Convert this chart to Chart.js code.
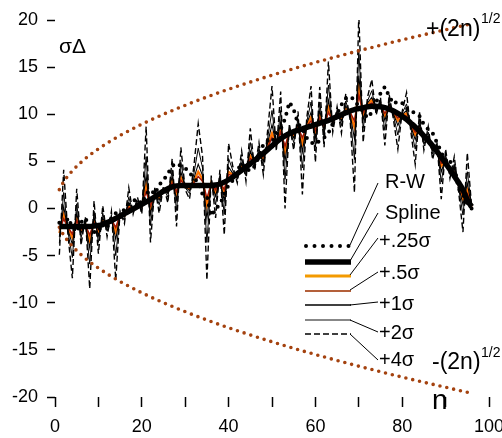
<!DOCTYPE html>
<html>
<head>
<meta charset="utf-8">
<script src="https://cdn.jsdelivr.net/npm/chart.js@4/dist/chart.umd.min.js"></script>
<style>
  html, body { margin: 0; padding: 0; background: #fff; }
  #wrap { width: 502px; height: 438px; }
</style>
</head>
<body>
<div id="wrap"><canvas id="walk-chart" width="502" height="438"></canvas></div>
<script>
// ========================================
// DATA
// ========================================

const steps = [1, 2, 3, 4, 5, 6, 7, 8, 9, 10, 11, 12, 13, 14, 15, 16, 17, 18, 19, 20,
  21, 22, 23, 24, 25, 26, 27, 28, 29, 30, 31, 32, 33, 34, 35, 36, 37, 38, 39, 40,
  41, 42, 43, 44, 45, 46, 47, 48, 49, 50, 51, 52, 53, 54, 55, 56, 57, 58, 59, 60,
  61, 62, 63, 64, 65, 66, 67, 68, 69, 70, 71, 72, 73, 74, 75, 76, 77, 78, 79, 80,
  81, 82, 83, 84, 85, 86, 87, 88, 89, 90, 91, 92, 93, 94, 95, 96];

const randomWalk = [-1.5, -2, -1, -2, -2.5, -1.5, -1, -2, -2.5, -2.5, -1.5, -2, -1, -0.5, -1, 0, 0.5, 0.8, 1, 0.5,
  1.5, 2, 1.5, 2.5, 3, 3.7, 4.5, 4.8, 4.5, 4.3, 3.8, 3.2, 2.8, 1.5, 1.3, -0.8, 0, 0.4, 1.5, 2.5,
  3, 4, 4.8, 4.2, 4, 4.5, 5.5, 6.8, 7.2, 7, 8, 8.4, 9.5, 11.3, 10.5, 9, 8.5, 7.5, 7, 6.8,
  7.2, 7.5, 8, 9, 10, 11, 11.7, 11.9, 11.5, 10.8, 10.3, 9.6, 10.2, 11.3, 12.2, 12.9, 11.9, 11.1, 11.4, 11.2,
  10.6, 10.5, 10, 9.8, 8.9, 8.4, 8, 7, 6, 4.8, 5, 4.5, 2.1, 1.5, 0.5, 0];

const spline = [-1.9, -1.9, -1.9, -1.9, -1.9, -1.9, -1.9, -1.9, -1.85, -1.8, -1.7, -1.5, -1.3, -1.05, -0.8, -0.55, -0.3, -0.05, 0.2, 0.45,
  0.7, 0.95, 1.25, 1.55, 1.85, 2.1, 2.3, 2.4, 2.45, 2.45, 2.45, 2.45, 2.45, 2.45, 2.45, 2.45, 2.5, 2.6, 2.8, 3.05,
  3.35, 3.7, 4.05, 4.4, 4.75, 5.1, 5.5, 5.85, 6.25, 6.65, 7.05, 7.4, 7.7, 7.95, 8.15, 8.3, 8.45, 8.6, 8.75, 8.9,
  9.05, 9.2, 9.35, 9.55, 9.75, 9.95, 10.15, 10.35, 10.5, 10.6, 10.7, 10.8, 10.85, 10.85, 10.8, 10.7, 10.55, 10.35, 10.1, 9.8,
  9.45, 9.05, 8.65, 8.2, 7.7, 7.2, 6.65, 6.05, 5.45, 4.8, 4.15, 3.45, 2.75, 2.0, 0.9, 0.2];

const plusQuarterSigma = [-2.6, -0.6, -2.1, -3.1, -1.0, -2.3, -1.7, -3.4, -1.3, -2.5, -1.3, -1.8, -1.1, -2.5, -0.7, -0.8, 0.3, -0.2, 0.4, 0.2,
  2.5, 0.0, 1.5, 1.1, 2.0, 1.8, 3.0, 1.5, 3.3, 2.3, 2.1, 2.9, 3.9, 3.1, 0.3, 2.7, 1.7, 2.9, 1.6, 3.9,
  3.6, 3.5, 4.5, 4.1, 5.6, 4.9, 5.8, 5.3, 6.7, 8.0, 6.8, 8.5, 6.0, 8.2, 7.7, 8.7, 6.9, 8.8, 9.7, 8.0,
  9.9, 8.6, 10.7, 9.2, 10.0, 9.5, 10.6, 10.1, 8.6, 12.8, 9.9, 11.0, 11.5, 10.6, 11.0, 9.8, 10.9, 10.1, 9.3, 9.9,
  10.1, 8.8, 7.8, 8.6, 7.4, 7.5, 6.3, 6.3, 4.5, 5.1, 3.9, 3.9, 2.5, 1.0, 2.0, 0.2];

const plusHalfSigma = [-2.3, -1.1, -2.0, -2.7, -1.3, -2.2, -1.8, -2.8, -1.5, -2.2, -1.4, -1.7, -1.2, -2.0, -0.7, -0.7, 0.1, -0.1, 0.3, 0.3,
  1.8, 0.3, 1.4, 1.3, 1.9, 1.9, 2.7, 1.8, 3.0, 2.4, 2.2, 2.7, 3.4, 2.9, 1.1, 2.6, 2.0, 2.8, 2.0, 3.6,
  3.5, 3.6, 4.3, 4.2, 5.3, 5.0, 5.7, 5.5, 6.5, 7.5, 6.9, 8.1, 6.6, 8.1, 7.9, 8.6, 7.5, 8.7, 9.3, 8.3,
  9.6, 8.8, 10.2, 9.3, 9.9, 9.7, 10.4, 10.2, 9.3, 12.0, 10.2, 10.9, 11.2, 10.7, 10.9, 10.1, 10.8, 10.2, 9.6, 9.9,
  9.8, 8.9, 8.1, 8.5, 7.5, 7.4, 6.4, 6.2, 4.8, 5.0, 4.0, 3.7, 2.6, 1.4, 1.6, 0.2];

const plusOneSigma = [-3.0, 0.2, -2.3, -3.8, -0.5, -2.6, -1.6, -4.2, -0.9, -2.9, -1.0, -2.0, -1.0, -3.3, -0.6, -0.9, 0.6, -0.2, 0.6, 0.1,
  3.5, -0.6, 1.6, 0.9, 2.0, 1.6, 3.4, 0.9, 3.9, 2.3, 1.9, 3.2, 4.7, 3.5, -1.1, 2.8, 1.3, 3.1, 0.8, 4.4,
  3.7, 3.4, 4.8, 3.9, 6.1, 4.8, 6.0, 5.0, 7.0, 8.9, 6.7, 9.2, 5.0, 8.3, 7.5, 9.0, 6.0, 9.0, 10.2, 7.5,
  10.4, 8.3, 11.5, 9.0, 10.1, 9.3, 10.9, 10.0, 7.4, 14.1, 9.4, 11.2, 11.8, 10.5, 11.2, 9.3, 11.1, 10.0, 8.8, 10.0,
  10.4, 8.7, 7.3, 8.9, 7.2, 7.7, 6.1, 6.4, 3.9, 5.3, 3.8, 4.2, 2.4, 0.4, 2.7, 0.2];

const plusTwoSigma = [-3.7, 1.7, -2.5, -5.2, 0.5, -3.1, -1.3, -5.9, -0.3, -3.6, -0.5, -2.4, -0.7, -5.0, -0.5, -1.2, 1.2, -0.4, 0.8, -0.2,
  5.5, -1.8, 1.9, 0.4, 2.2, 1.2, 4.1, -0.2, 4.9, 2.2, 1.6, 3.7, 6.4, 4.3, -3.6, 3.1, 0.4, 3.5, -0.6, 5.3,
  4.0, 3.1, 5.3, 3.5, 7.0, 4.5, 6.4, 4.5, 7.5, 10.4, 6.5, 10.4, 3.1, 8.6, 7.0, 9.5, 4.3, 9.2, 11.3, 6.5,
  11.3, 7.6, 13.1, 8.7, 10.4, 8.8, 11.4, 9.8, 5.2, 16.6, 8.5, 11.4, 12.5, 10.3, 11.4, 8.3, 11.5, 9.8, 7.8, 10.1,
  11.1, 8.5, 6.3, 9.4, 6.8, 8.1, 5.8, 6.7, 2.8, 5.7, 3.6, 4.7, 2.2, -0.7, 3.9, 0.2];

const plusFourSigma = [-4.9, 4.1, -2.9, -7.4, 2.1, -3.9, -0.9, -8.5, 0.8, -4.8, 0.3, -3.0, -0.3, -7.6, -0.3, -1.6, 2.2, -0.6, 1.2, -0.6,
  8.7, -3.6, 2.3, -0.5, 2.4, 0.6, 5.3, -1.9, 6.5, 2.0, 1.0, 4.5, 9.0, 5.5, -7.6, 3.5, -1.0, 4.1, -2.8, 6.9,
  4.4, 2.7, 6.1, 2.9, 8.5, 4.1, 7.0, 3.6, 8.3, 13.0, 6.1, 12.4, 0.0, 9.0, 6.2, 10.3, 1.5, 9.6, 13.0, 4.9,
  12.9, 6.5, 15.6, 8.1, 10.8, 8.0, 12.2, 9.4, 1.7, 20.6, 7.0, 11.8, 13.7, 9.9, 11.8, 6.7, 12.1, 9.4, 6.3, 10.3,
  12.3, 8.1, 4.7, 10.2, 6.2, 8.7, 5.2, 7.1, 1.0, 6.3, 3.2, 5.5, 1.8, -2.5, 5.9, 0.2];

// +/- envelope curves
const envelopeN = [1, 2, 3, 4, 6, 8, 10, 13, 16, 20, 25, 30, 36, 42, 49, 56, 64, 72, 81, 90, 96];
const envelopeUpper = [2, 2.83, 3.46, 4, 4.9, 5.66, 6.32, 7.21, 8, 8.94, 10, 10.95, 12, 12.96, 14, 14.97, 16, 16.97, 18, 18.97, 19.6];
const envelopeLower = [-2, -2.83, -3.46, -4, -4.9, -5.66, -6.32, -7.21, -8, -8.94, -10, -10.95, -12, -12.96, -14, -14.97, -16, -16.97, -18, -18.97, -19.6];

const xTickLabels = [0, 20, 40, 60, 80, 100];
const yTickLabels = [-20, -15, -10, -5, 0, 5, 10, 15, 20];

const legendLabels = ['R-W', 'Spline', '+.25\u03C3', '+.5\u03C3', '+1\u03C3', '+2\u03C3', '+4\u03C3'];

// ========================================
// CHART
// ========================================

const FONT = '"Liberation Sans", Arial, sans-serif';
const BROWN = '#a4420f';

function toPoints(xs, ys) {
  return xs.map(function(x, i) { return { x: x, y: ys[i] }; });
}

function noisyLine(label, values, color, width, order, dash) {
  return {
    label: label,
    data: toPoints(steps, values),
    borderColor: color,
    borderWidth: width,
    borderDash: dash || [],
    pointRadius: 0,
    tension: 0,
    order: order
  };
}

// Legend + text annotations drawn straight on the canvas
const annotationPlugin = {
  id: 'annotations',
  afterDraw: function(chart) {
    const ctx = chart.ctx;
    ctx.save();
    ctx.fillStyle = '#000';
    ctx.textAlign = 'left';

    // axis titles
    ctx.font = '21px ' + FONT;
    ctx.textBaseline = 'middle';
    ctx.fillText('\u03C3\u0394', 59, 47);
    ctx.font = '28px ' + FONT;
    ctx.textBaseline = 'alphabetic';
    ctx.fillText('n', 432, 409);

    // envelope labels
    ctx.font = '23px ' + FONT;
    ctx.fillText('+(2n)', 426, 36);
    ctx.fillText('-(2n)', 432, 369);
    ctx.font = '14px ' + FONT;
    ctx.fillText('1/2', 481, 23);
    ctx.fillText('1/2', 481, 357);

    // legend samples
    const sx0 = 305, sx1 = 351;
    const sampleY = [246, 262, 276, 291, 305, 320, 334];
    const labelPos = [[385, 182], [385, 213], [379, 241], [379, 273], [379, 304], [379, 333], [379, 360]];
    const leaderEnd = [[378, 183], [378, 213], [378, 238], [378, 272], [378, 302], [378, 332], [378, 360]];
    const styles = [
      { color: '#000', width: 4, dash: [0, 8.5], cap: 'round' },
      { color: '#000', width: 5.5, dash: [], cap: 'butt' },
      { color: '#f39a00', width: 3, dash: [], cap: 'butt' },
      { color: '#b4603a', width: 2, dash: [], cap: 'butt' },
      { color: '#000', width: 1.4, dash: [], cap: 'butt' },
      { color: '#111', width: 1.1, dash: [], cap: 'butt' },
      { color: '#000', width: 1.3, dash: [6, 3], cap: 'butt' }
    ];

    styles.forEach(function(s, i) {
      const y = sampleY[i];
      ctx.beginPath();
      ctx.strokeStyle = s.color;
      ctx.lineWidth = s.width;
      ctx.lineCap = s.cap;
      ctx.setLineDash(s.dash);
      ctx.moveTo(i === 0 ? sx0 + 1 : sx0, y);
      ctx.lineTo(i === 0 ? sx1 - 2 : sx1, y);
      ctx.stroke();

      // leader line to the label
      ctx.beginPath();
      ctx.setLineDash([]);
      ctx.lineCap = 'butt';
      ctx.strokeStyle = '#000';
      ctx.lineWidth = 1;
      ctx.moveTo(sx1 - 1, y - (i < 4 ? 1 : 0));
      ctx.lineTo(leaderEnd[i][0], leaderEnd[i][1]);
      ctx.stroke();
    });

    ctx.font = '20px ' + FONT;
    ctx.textBaseline = 'middle';
    legendLabels.forEach(function(text, i) {
      ctx.fillText(text, labelPos[i][0], labelPos[i][1]);
    });

    ctx.restore();
  }
};

const datasets = [
  {
    label: 'Spline',
    data: toPoints(steps, spline),
    borderColor: '#000',
    borderWidth: 5.5,
    pointRadius: 0,
    cubicInterpolationMode: 'monotone',
    order: 0
  },
  {
    label: 'R-W',
    data: toPoints(steps, randomWalk),
    borderColor: '#000',
    borderWidth: 4,
    borderDash: [0, 7.5],
    borderCapStyle: 'round',
    pointRadius: 0,
    tension: 0,
    order: 1
  },
  {
    label: '+(2n)^1/2',
    data: toPoints(envelopeN, envelopeUpper),
    borderColor: BROWN,
    borderWidth: 3.6,
    borderDash: [0, 7],
    borderCapStyle: 'round',
    pointRadius: 0,
    cubicInterpolationMode: 'monotone',
    order: 2
  },
  {
    label: '-(2n)^1/2',
    data: toPoints(envelopeN, envelopeLower),
    borderColor: BROWN,
    borderWidth: 3.6,
    borderDash: [0, 7],
    borderCapStyle: 'round',
    pointRadius: 0,
    cubicInterpolationMode: 'monotone',
    order: 2
  },
  noisyLine('+4\u03C3', plusFourSigma, '#000', 1.4, 3, [6, 3]),
  noisyLine('+2\u03C3', plusTwoSigma, '#000', 1, 4),
  noisyLine('+1\u03C3', plusOneSigma, '#000', 1.1, 5),
  noisyLine('+.5\u03C3', plusHalfSigma, '#a01808', 1.5, 6),
  noisyLine('+.25\u03C3', plusQuarterSigma, '#ff7400', 2.2, 7)
];

new Chart(document.getElementById('walk-chart').getContext('2d'), {
  type: 'line',
  data: { datasets: datasets },
  options: {
    responsive: false,
    animation: false,
    events: [],
    layout: { padding: { top: 20, right: 13, left: 0, bottom: 0 } },
    plugins: {
      legend: { display: false },
      tooltip: { enabled: false }
    },
    scales: {
      x: {
        type: 'linear',
        min: 0,
        max: 100,
        border: { display: false },
        grid: { drawOnChartArea: false, drawTicks: true, tickLength: 10, tickColor: '#000', tickWidth: 1.5 },
        ticks: {
          stepSize: 10,
          autoSkip: false,
          maxRotation: 0,
          padding: 9,
          color: '#000',
          font: { family: FONT, size: 18 },
          callback: function(value) {
            return xTickLabels.indexOf(value) >= 0 ? String(value) : '';
          }
        },
        afterFit: function(scale) {
          scale.height = 41;
          scale.paddingLeft = 0;
          scale.paddingRight = 0;
        }
      },
      y: {
        min: -20,
        max: 20,
        border: { display: false },
        grid: { drawOnChartArea: false, drawTicks: true, tickLength: 8, tickColor: '#000', tickWidth: 1.5 },
        ticks: {
          stepSize: 5,
          padding: 9,
          color: '#000',
          font: { family: FONT, size: 18 },
          callback: function(value) {
            return yTickLabels.indexOf(value) >= 0 ? String(value) : '';
          }
        },
        afterFit: function(scale) {
          scale.width = 55;
          scale.paddingTop = 0;
          scale.paddingBottom = 0;
        }
      }
    }
  },
  plugins: [annotationPlugin]
});
</script>
</body>
</html>
